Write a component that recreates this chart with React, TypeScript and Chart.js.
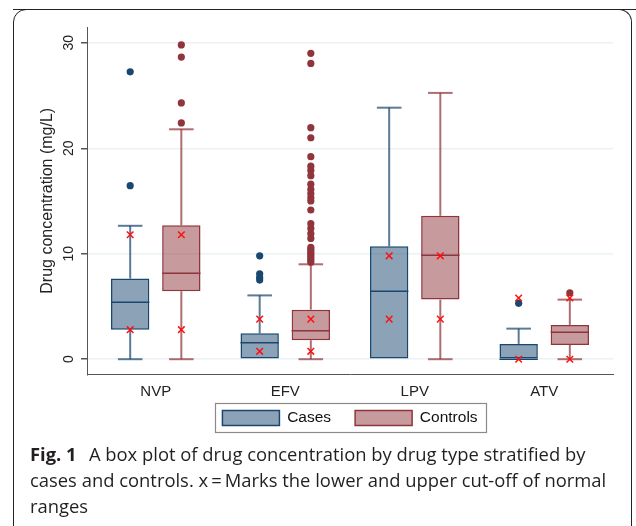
import React, { useEffect, useRef } from 'react';
import { Chart, registerables } from 'chart.js';
Chart.register(...registerables);

// ---- data ----
const categories = ['NVP', 'EFV', 'LPV', 'ATV'];
const seriesNames = ['Cases', 'Controls'];

const casesMin = [0, 0, 0, 0];
const casesQ1 = [2.8, 0, 0, 0];
const casesMedian = [5.4, 1.55, 6.45, 0];
const casesQ3 = [7.65, 2.45, 10.7, 1.45];
const casesMax = [12.65, 6.05, 23.85, 2.9];
const casesOutliers = [[16.45, 27.25], [7.5, 7.75, 8.1, 9.8], [], [5.3]];

const controlsMin = [0, 0, 0, 0];
const controlsQ1 = [6.45, 1.8, 5.65, 1.35];
const controlsMedian = [8.15, 2.7, 9.85, 2.55];
const controlsQ3 = [12.7, 4.7, 13.6, 3.25];
const controlsMax = [21.8, 9.0, 25.25, 5.65];
const controlsOutliers = [
  [22.4, 24.3, 28.65, 29.8],
  [9.2, 9.4, 9.6, 9.8, 10.0, 10.2, 10.4, 10.6, 11.45, 11.9, 12.4, 12.85, 14.15, 15.0, 15.3, 15.7, 16.1, 16.6, 17.4, 17.9, 18.3, 19.2, 21.0, 21.95, 28.05, 29.0],
  [],
  [6.3],
];

// normal range cut-offs (red x marks)
const normalLow = [2.8, 0.75, 3.8, 0];
const normalHigh = [11.8, 3.8, 9.8, 5.8];

const yTicks = [0, 10, 20, 30];
const yMin = -1.45;
const yMax = 31.5;

const NAVY = '#1A476F';
const MAROON = '#90353B';
const FONT = "'Liberation Sans', Arial, sans-serif";

const stats = [
  { min: casesMin, q1: casesQ1, med: casesMedian, q3: casesQ3, max: casesMax, out: casesOutliers, color: NAVY, whisker: 'rgba(26,71,111,0.72)' },
  { min: controlsMin, q1: controlsQ1, med: controlsMedian, q3: controlsQ3, max: controlsMax, out: controlsOutliers, color: MAROON, whisker: 'rgba(144,53,59,0.72)' },
];

export default function App() {
  const ref = useRef<HTMLCanvasElement>(null);

  useEffect(() => {
    if (!ref.current) return;

    const boxPlugin = {
      id: 'boxExtras',
      afterLayout(chart: any) {
        // small outer margin on the category axis, as in the original figure
        const xs = chart.scales.x;
        const e = 0.031;
        xs._startValue -= e;
        xs._valueRange += 2 * e;
      },
      beforeDraw(chart: any) {
        const lg = chart.legend;
        const hb = lg && lg.legendHitBoxes;
        if (!hb || !hb.length || lg._shifted) return;
        const cy = hb[0].top + hb[0].height / 2;
        const delta = 418 - cy;
        lg.top += delta;
        lg.bottom += delta;
        hb.forEach((h: any) => { h.top += delta; });
        lg._shifted = true;
      },
      beforeDatasetsDraw(chart: any) {
        const ctx = chart.ctx;
        const ys = chart.scales.y;
        stats.forEach((s, d) => {
          const meta = chart.getDatasetMeta(d);
          meta.data.forEach((el: any, i: number) => {
            const x = el.x;
            const half = el.width * 0.32;
            ctx.save();
            ctx.strokeStyle = s.whisker;
            ctx.lineWidth = 2;
            const segs: [number, number][] = [];
            if (s.max[i] > s.q3[i]) segs.push([s.q3[i], s.max[i]]);
            if (s.min[i] < s.q1[i]) segs.push([s.min[i], s.q1[i]]);
            segs.forEach(([a, b]) => {
              ctx.beginPath();
              ctx.moveTo(x, ys.getPixelForValue(a));
              ctx.lineTo(x, ys.getPixelForValue(b));
              ctx.stroke();
            });
            const caps: number[] = [];
            if (s.max[i] > s.q3[i]) caps.push(s.max[i]);
            if (s.min[i] < s.q1[i]) caps.push(s.min[i]);
            caps.forEach((v) => {
              const py = ys.getPixelForValue(v);
              ctx.beginPath();
              ctx.moveTo(x - half, py);
              ctx.lineTo(x + half, py);
              ctx.stroke();
            });
            ctx.restore();
          });
        });
      },
      afterDatasetsDraw(chart: any) {
        const ctx = chart.ctx;
        const ys = chart.scales.y;
        stats.forEach((s, d) => {
          const meta = chart.getDatasetMeta(d);
          meta.data.forEach((el: any, i: number) => {
            const x = el.x;
            const half = el.width / 2;
            ctx.save();
            ctx.strokeStyle = s.color;
            ctx.lineWidth = 1.5;
            const my = ys.getPixelForValue(s.med[i]);
            ctx.beginPath();
            ctx.moveTo(x - half, my);
            ctx.lineTo(x + half, my);
            ctx.stroke();
            ctx.fillStyle = s.color;
            s.out[i].forEach((v: number) => {
              ctx.beginPath();
              ctx.arc(x, ys.getPixelForValue(v), 3.6, 0, Math.PI * 2);
              ctx.fill();
            });
            ctx.restore();
          });
        });
        stats.forEach((s, d) => {
          const meta = chart.getDatasetMeta(d);
          meta.data.forEach((el: any, i: number) => {
            const x = el.x;
            ctx.save();
            ctx.strokeStyle = '#FF1010';
            ctx.lineWidth = 1.5;
            [normalLow[i], normalHigh[i]].forEach((v) => {
              const py = ys.getPixelForValue(v);
              const r = 3.3;
              ctx.beginPath();
              ctx.moveTo(x - r, py - r);
              ctx.lineTo(x + r, py + r);
              ctx.moveTo(x + r, py - r);
              ctx.lineTo(x - r, py + r);
              ctx.stroke();
            });
            ctx.restore();
          });
        });
      },
      afterDraw(chart: any) {
        const hb = chart.legend && chart.legend.legendHitBoxes;
        if (!hb || !hb.length) return;
        const ctx = chart.ctx;
        const left = Math.min(...hb.map((h: any) => h.left)) - 7;
        const right = Math.max(...hb.map((h: any) => h.left + h.width)) + 9;
        const top = Math.min(...hb.map((h: any) => h.top)) - 7;
        const bottom = Math.max(...hb.map((h: any) => h.top + h.height)) + 6;
        ctx.save();
        ctx.strokeStyle = '#8a8a8a';
        ctx.lineWidth = 1.2;
        ctx.strokeRect(Math.round(left) + 0.5, Math.round(top) + 0.5, Math.round(right - left), Math.round(bottom - top));
        ctx.restore();
      },
    };

    const chart = new Chart(ref.current, {
      type: 'bar',
      data: {
        labels: categories,
        datasets: [
          {
            label: seriesNames[0],
            data: categories.map((_, i) => [casesQ1[i], casesQ3[i]]) as any,
            backgroundColor: 'rgba(26,71,111,0.5)',
            borderColor: NAVY,
            borderWidth: 1.5,
            borderSkipped: false,
            categoryPercentage: 0.79,
            barPercentage: 0.75,
          },
          {
            label: seriesNames[1],
            data: categories.map((_, i) => [controlsQ1[i], controlsQ3[i]]) as any,
            backgroundColor: 'rgba(144,53,59,0.5)',
            borderColor: MAROON,
            borderWidth: 1.5,
            borderSkipped: false,
            categoryPercentage: 0.79,
            barPercentage: 0.75,
          },
        ],
      },
      options: {
        animation: false,
        responsive: false,
        layout: { padding: { left: 37.5, right: 23, top: 27, bottom: 6 } },
        plugins: {
          tooltip: { enabled: false },
          legend: {
            position: 'bottom',
            fullSize: false,
            labels: {
              boxWidth: 57,
              boxHeight: 15,
              padding: 24,
              color: '#111',
              font: { family: FONT, size: 15.5 },
            },
          },
        },
        scales: {
          x: {
            grid: { display: false, drawTicks: false, tickLength: 0 },
            border: { display: true, color: '#555', width: 1 },
            ticks: { color: '#222', padding: 8, font: { family: FONT, size: 15 } },
          },
          y: {
            min: yMin,
            max: yMax,
            afterBuildTicks: (s: any) => { s.ticks = yTicks.map((v) => ({ value: v })); },
            afterFit: (s: any) => { s.width = 49.5; },
            grid: { color: '#EAF2F3', lineWidth: 1.5, tickLength: 6, tickColor: '#555' },
            border: { display: true, color: '#555', width: 1 },
            ticks: {
              minRotation: 90,
              maxRotation: 90,
              crossAlign: 'center',
              padding: 4,
              color: '#222',
              font: { family: FONT, size: 14 },
            },
            title: {
              display: true,
              text: 'Drug concentration (mg/L)',
              color: '#222',
              padding: 0,
              font: { family: FONT, size: 16 },
            },
          },
        },
      },
      plugins: [boxPlugin],
    } as any);

    return () => chart.destroy();
  }, []);

  return (
    <div style={{ position: 'fixed', left: 0, top: 0, width: 636, height: 526, overflow: 'hidden', background: '#fff' }}>
      <div
        style={{
          position: 'absolute', left: 13, top: 9, width: 640, height: 620,
          border: '1.5px solid #222', borderRadius: 13, boxSizing: 'border-box',
        }}
      />
      <div
        style={{
          position: 'absolute', left: 13, top: 9, width: 619, height: 620,
          borderRight: '1.5px solid #222', borderTop: '1.5px solid #222', borderTopRightRadius: 13, boxSizing: 'border-box',
        }}
      />
      <canvas ref={ref} width={636} height={464} style={{ position: 'absolute', left: 0, top: 0 }} />
      <div
        style={{
          position: 'absolute', left: 30, top: 441, width: 600,
          fontFamily: "'Open Sans', sans-serif", fontSize: 18.4, lineHeight: '26px', color: '#231F20', whiteSpace: 'nowrap',
        }}
      >
        <b>Fig. 1</b>{'\u2002\u2009'}A box plot of drug concentration by drug type stratified by<br />
        cases and controls. x{'\u2009'}={'\u2009'}Marks the lower and upper cut-off of normal<br />
        ranges
      </div>
    </div>
  );
}
